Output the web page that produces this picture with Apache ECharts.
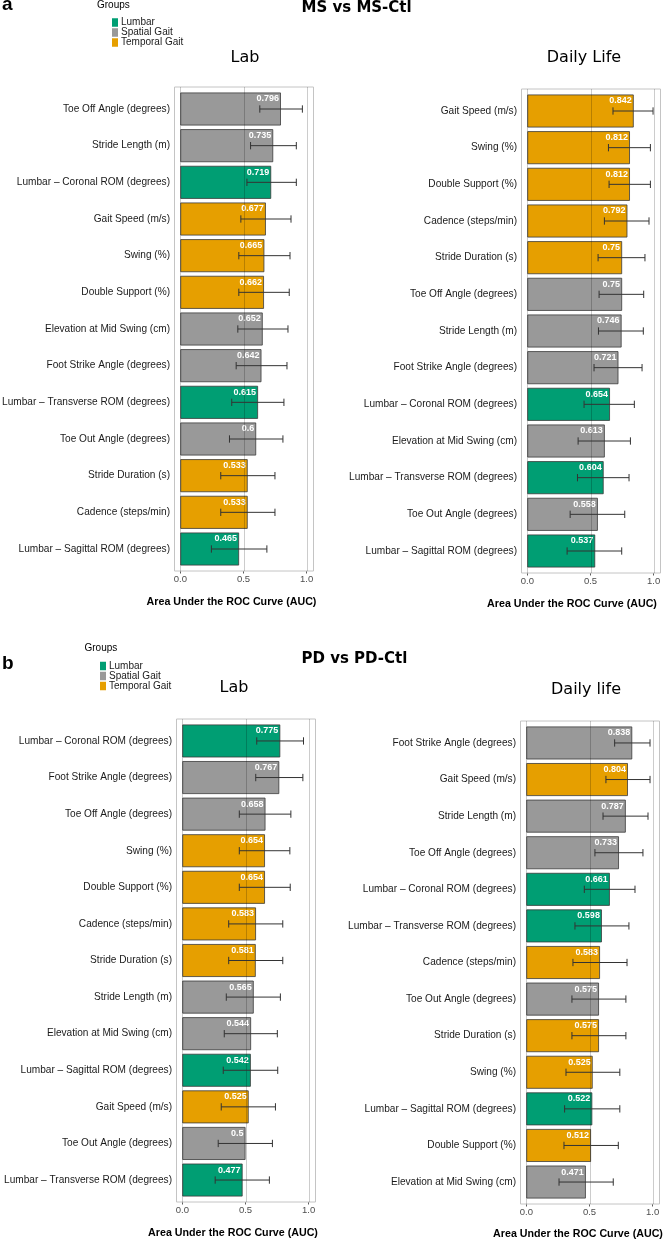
<!DOCTYPE html>
<html><head><meta charset="utf-8">
<script src="https://cdn.jsdelivr.net/npm/echarts@6/dist/echarts.min.js"></script>
<style>html,body{margin:0;padding:0;background:#fff}#c{width:665px;height:1240px}</style>
</head><body><div id="c"></div><script>
// ---------- data ----------
const groupNames = ['Lumbar', 'Spatial Gait', 'Temporal Gait'];
const groupColors = ['#009E73', '#999999', '#E69F00'];
const tickValues = [0, 0.5, 1];

const msLabCats = ['Toe Off Angle (degrees)', 'Stride Length (m)', 'Lumbar – Coronal ROM (degrees)', 'Gait Speed (m/s)', 'Swing (%)', 'Double Support (%)', 'Elevation at Mid Swing (cm)', 'Foot Strike Angle (degrees)', 'Lumbar – Transverse ROM (degrees)', 'Toe Out Angle (degrees)', 'Stride Duration (s)', 'Cadence (steps/min)', 'Lumbar – Sagittal ROM (degrees)'];
const msLabGroups = ['Spatial Gait', 'Spatial Gait', 'Lumbar', 'Temporal Gait', 'Temporal Gait', 'Temporal Gait', 'Spatial Gait', 'Spatial Gait', 'Lumbar', 'Spatial Gait', 'Temporal Gait', 'Temporal Gait', 'Lumbar'];
const msLabAuc = [0.796, 0.735, 0.719, 0.677, 0.665, 0.662, 0.652, 0.642, 0.615, 0.6, 0.533, 0.533, 0.465];
const msLabLo = [0.629, 0.556, 0.527, 0.479, 0.463, 0.463, 0.455, 0.442, 0.407, 0.389, 0.320, 0.320, 0.246];
const msLabHi = [0.966, 0.918, 0.918, 0.876, 0.868, 0.862, 0.852, 0.844, 0.820, 0.812, 0.749, 0.749, 0.685];

const msDailyCats = ['Gait Speed (m/s)', 'Swing (%)', 'Double Support (%)', 'Cadence (steps/min)', 'Stride Duration (s)', 'Toe Off Angle (degrees)', 'Stride Length (m)', 'Foot Strike Angle (degrees)', 'Lumbar – Coronal ROM (degrees)', 'Elevation at Mid Swing (cm)', 'Lumbar – Transverse ROM (degrees)', 'Toe Out Angle (degrees)', 'Lumbar – Sagittal ROM (degrees)'];
const msDailyGroups = ['Temporal Gait', 'Temporal Gait', 'Temporal Gait', 'Temporal Gait', 'Temporal Gait', 'Spatial Gait', 'Spatial Gait', 'Spatial Gait', 'Lumbar', 'Spatial Gait', 'Lumbar', 'Spatial Gait', 'Lumbar'];
const msDailyAuc = [0.842, 0.812, 0.812, 0.792, 0.75, 0.75, 0.746, 0.721, 0.654, 0.613, 0.604, 0.558, 0.537];
const msDailyLo = [0.678, 0.642, 0.647, 0.610, 0.560, 0.568, 0.563, 0.528, 0.449, 0.402, 0.397, 0.339, 0.315];
const msDailyHi = [0.995, 0.974, 0.974, 0.963, 0.931, 0.921, 0.918, 0.908, 0.847, 0.816, 0.805, 0.771, 0.747];

const pdLabCats = ['Lumbar – Coronal ROM (degrees)', 'Foot Strike Angle (degrees)', 'Toe Off Angle (degrees)', 'Swing (%)', 'Double Support (%)', 'Cadence (steps/min)', 'Stride Duration (s)', 'Stride Length (m)', 'Elevation at Mid Swing (cm)', 'Lumbar – Sagittal ROM (degrees)', 'Gait Speed (m/s)', 'Toe Out Angle (degrees)', 'Lumbar – Transverse ROM (degrees)'];
const pdLabGroups = ['Lumbar', 'Spatial Gait', 'Spatial Gait', 'Temporal Gait', 'Temporal Gait', 'Temporal Gait', 'Temporal Gait', 'Spatial Gait', 'Spatial Gait', 'Lumbar', 'Temporal Gait', 'Spatial Gait', 'Lumbar'];
const pdLabAuc = [0.775, 0.767, 0.658, 0.654, 0.654, 0.583, 0.581, 0.565, 0.544, 0.542, 0.525, 0.5, 0.477];
const pdLabLo = [0.589, 0.581, 0.451, 0.451, 0.451, 0.367, 0.367, 0.348, 0.332, 0.324, 0.308, 0.284, 0.260];
const pdLabHi = [0.959, 0.954, 0.859, 0.851, 0.854, 0.795, 0.795, 0.776, 0.752, 0.755, 0.737, 0.713, 0.689];

const pdDailyCats = ['Foot Strike Angle (degrees)', 'Gait Speed (m/s)', 'Stride Length (m)', 'Toe Off Angle (degrees)', 'Lumbar – Coronal ROM (degrees)', 'Lumbar – Transverse ROM (degrees)', 'Cadence (steps/min)', 'Toe Out Angle (degrees)', 'Stride Duration (s)', 'Swing (%)', 'Lumbar – Sagittal ROM (degrees)', 'Double Support (%)', 'Elevation at Mid Swing (cm)'];
const pdDailyGroups = ['Spatial Gait', 'Temporal Gait', 'Spatial Gait', 'Spatial Gait', 'Lumbar', 'Lumbar', 'Temporal Gait', 'Spatial Gait', 'Temporal Gait', 'Temporal Gait', 'Lumbar', 'Temporal Gait', 'Spatial Gait'];
const pdDailyAuc = [0.838, 0.804, 0.787, 0.733, 0.661, 0.598, 0.583, 0.575, 0.575, 0.525, 0.522, 0.512, 0.471];
const pdDailyLo = [0.699, 0.630, 0.607, 0.543, 0.459, 0.385, 0.369, 0.361, 0.361, 0.314, 0.303, 0.298, 0.259];
const pdDailyHi = [0.979, 0.979, 0.963, 0.923, 0.860, 0.812, 0.797, 0.788, 0.788, 0.740, 0.740, 0.728, 0.688];

// ---------- layout ----------
const FONT = 'Liberation Sans';
const panels = [
  { cats: msLabCats, groups: msLabGroups, auc: msLabAuc, lo: msLabLo, hi: msLabHi, box: [174, 87, 139, 484], nameShift: 24, nameGap: 25.5 },
  { cats: msDailyCats, groups: msDailyGroups, auc: msDailyAuc, lo: msDailyLo, hi: msDailyHi, box: [521, 89, 139, 484], nameShift: 37, nameGap: 25.5 },
  { cats: pdLabCats, groups: pdLabGroups, auc: pdLabAuc, lo: pdLabLo, hi: pdLabHi, box: [176, 719, 139, 483], nameShift: 25, nameGap: 26 },
  { cats: pdDailyCats, groups: pdDailyGroups, auc: pdDailyAuc, lo: pdDailyLo, hi: pdDailyHi, box: [520, 721, 139, 483], nameShift: 23, nameGap: 25 }
];

const grid = [], xAxis = [], yAxis = [], series = [];
panels.forEach((p, k) => {
  const [L, T, W, H] = p.box;
  const n = p.cats.length;
  const unit = H / (n + 0.2);
  const pad = unit * 0.1;
  grid.push({ left: L, top: T + pad, width: W, height: unit * n, containLabel: false, outerBoundsMode: 'none' });
  xAxis.push({
    gridIndex: k, type: 'value', min: -0.05, max: 1.05, offset: pad,
    axisLine: { show: false },
    axisTick: { show: true, length: 2.5, customValues: tickValues, lineStyle: { color: '#333', width: 0.8 } },
    axisLabel: { customValues: tickValues, formatter: v => Number(v).toFixed(1), fontSize: 9.5, color: '#4d4d4d', margin: 3, fontFamily: FONT },
    splitLine: { show: false },
    name: 'Area Under the ROC Curve (AUC)', nameLocation: 'middle', nameGap: p.nameGap,
    nameTextStyle: { fontWeight: 'bold', fontSize: 10.7, color: '#000', fontFamily: FONT, padding: [0, p.nameShift, 0, 0] }
  });
  yAxis.push({
    gridIndex: k, type: 'category', data: p.cats, inverse: true,
    axisLine: { show: false },
    axisTick: { show: true, length: 3, alignWithLabel: true, lineStyle: { color: '#333', width: 0.8 } },
    axisLabel: { interval: 0, fontSize: 10.1, color: '#1a1a1a', margin: 4, fontFamily: FONT },
    splitLine: { show: false }
  });
  // panel frame
  series.push({
    type: 'custom', xAxisIndex: k, yAxisIndex: k, z: 1, silent: true,
    data: [[0, 0]], encode: { x: 0, y: 1 },
    renderItem: (params, api) => {
      const cs = params.coordSys;
      const pd = cs.height / n * 0.1;
      return { type: 'rect', shape: { x: Math.round(cs.x) + 0.5, y: cs.y - pd, width: cs.width, height: cs.height + 2 * pd },
        style: { fill: '#fff', stroke: '#c4c4c4', lineWidth: 1 } };
    }
  });
  // bars, one series per group
  groupNames.forEach((g, gi) => {
    series.push({
      type: 'bar', name: g, xAxisIndex: k, yAxisIndex: k, z: 2,
      barWidth: '90%', barGap: '-100%',
      data: p.auc.map((v, i) => p.groups[i] === g ? v : '-'),
      itemStyle: { color: groupColors[gi], borderColor: '#3a3a3a', borderWidth: 0.8 },
      label: { show: true, position: 'insideTopRight', distance: 2, color: '#fff', fontSize: 9,
        fontWeight: 'bold', fontFamily: FONT, formatter: d => String(d.value) },
      emphasis: { disabled: true }
    });
  });
  // gridlines on top of bars
  series.push({
    type: 'custom', xAxisIndex: k, yAxisIndex: k, z: 3, silent: true,
    data: tickValues.map(v => [v, 0]), encode: { x: 0, y: 1 },
    renderItem: (params, api) => {
      const cs = params.coordSys;
      const pd = cs.height / n * 0.1;
      const x = Math.round(api.coord([api.value(0), 0])[0]) + 0.5;
      return { type: 'line', shape: { x1: x, y1: cs.y - pd, x2: x, y2: cs.y + cs.height + pd },
        style: { stroke: 'rgba(0,0,0,0.2)', lineWidth: 1 } };
    }
  });
  // error bars
  series.push({
    type: 'custom', xAxisIndex: k, yAxisIndex: k, z: 4, silent: true,
    data: p.auc.map((v, i) => [i, p.lo[i], p.hi[i]]), encode: { y: 0, x: [1, 2] },
    renderItem: (params, api) => {
      const i = api.value(0);
      const a = api.coord([api.value(1), i]);
      const b = api.coord([api.value(2), i]);
      const h = api.size([0, 1])[1] * 0.1;
      const st = { stroke: '#333', lineWidth: 1 };
      return { type: 'group', children: [
        { type: 'line', shape: { x1: a[0], y1: a[1], x2: b[0], y2: b[1] }, style: st },
        { type: 'line', shape: { x1: a[0], y1: a[1] - h, x2: a[0], y2: a[1] + h }, style: st },
        { type: 'line', shape: { x1: b[0], y1: b[1] - h, x2: b[0], y2: b[1] + h }, style: st }
      ] };
    }
  });
});

const legendBase = {
  data: groupNames, orient: 'vertical', icon: 'rect', itemWidth: 6, itemHeight: 8.5, itemGap: 0,
  padding: 0, selectedMode: false,
  itemStyle: { borderWidth: 0 },
  textStyle: { fontSize: 10, color: '#1a1a1a', fontFamily: FONT, lineHeight: 10, padding: [0, 0, 0, -2] }
};

const txt = (text, x, y, font, align) => ({
  type: 'text', x: x, y: y, silent: true,
  style: { text: text, font: font, fill: '#000', textAlign: align || 'left', textVerticalAlign: 'middle' }
});

const chart = echarts.init(document.getElementById('c'), null, { renderer: 'canvas' });
chart.setOption({
  animation: false,
  backgroundColor: '#fff',
  textStyle: { fontFamily: FONT },
  grid, xAxis, yAxis, series,
  legend: [
    Object.assign({}, legendBase, { left: 112, top: 17.5 }),
    Object.assign({}, legendBase, { left: 100, top: 661 })
  ],
  graphic: [
    txt('a', 2, 5, 'bold 19px "Liberation Sans"'),
    txt('b', 2, 664, 'bold 19px "Liberation Sans"'),
    txt('MS vs MS-Ctl', 301.5, 8.5, 'bold 15px "DejaVu Sans"'),
    txt('PD vs PD-Ctl', 301.5, 659.5, 'bold 15px "DejaVu Sans"'),
    txt('Groups', 97, 5, '10px "Liberation Sans"'),
    txt('Groups', 84.5, 648.5, '10px "Liberation Sans"'),
    txt('Lab', 245, 58, '16px "DejaVu Sans"', 'center'),
    txt('Daily Life', 584, 57.5, '16px "DejaVu Sans"', 'center'),
    txt('Lab', 234, 688, '16px "DejaVu Sans"', 'center'),
    txt('Daily life', 586, 690, '16px "DejaVu Sans"', 'center')
  ]
});
</script></body></html>
